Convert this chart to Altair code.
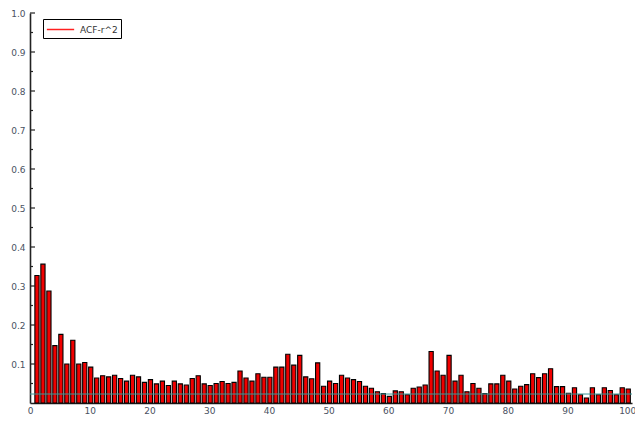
import altair as alt
import pandas as pd

# ---- data ----
lags = list(range(1, 101))
acf_r2 = [
    0.327, 0.356, 0.287, 0.147, 0.176, 0.100, 0.161, 0.100, 0.104, 0.092,
    0.064, 0.070, 0.067, 0.071, 0.063, 0.056, 0.071, 0.067, 0.053, 0.060,
    0.049, 0.056, 0.045, 0.056, 0.049, 0.046, 0.063, 0.070, 0.049, 0.045,
    0.050, 0.055, 0.050, 0.053, 0.082, 0.064, 0.056, 0.075, 0.066, 0.066,
    0.092, 0.092, 0.125, 0.097, 0.122, 0.067, 0.062, 0.103, 0.043, 0.056,
    0.050, 0.071, 0.064, 0.060, 0.055, 0.043, 0.038, 0.029, 0.024, 0.017,
    0.031, 0.029, 0.021, 0.038, 0.041, 0.046, 0.132, 0.082, 0.071, 0.122,
    0.056, 0.071, 0.029, 0.050, 0.038, 0.024, 0.049, 0.049, 0.071, 0.056,
    0.036, 0.043, 0.047, 0.075, 0.065, 0.075, 0.088, 0.042, 0.042, 0.025,
    0.039, 0.021, 0.013, 0.039, 0.021, 0.039, 0.032, 0.021, 0.039, 0.036,
]
series_name = "ACF-r^2"
threshold = [0.023]
y_major = [0.1, 0.2, 0.3, 0.4, 0.5, 0.6, 0.7, 0.8, 0.9, 1.0]
y_minor = [0.05, 0.15, 0.25, 0.35, 0.45, 0.55, 0.65, 0.75, 0.85, 0.95]
x_ticks = [0, 10, 20, 30, 40, 50, 60, 70, 80, 90, 100]

df = pd.DataFrame({"lag": lags, "value": acf_r2, "series": series_name})
thr_df = pd.DataFrame({"thr": threshold})
major_df = pd.DataFrame({"t": y_major})
minor_df = pd.DataFrame({"t": y_minor})

FONT = "DejaVu Sans"
LABEL_COLOR = "#4a5262"

xscale = alt.Scale(domain=[0, 100.8], nice=False, zero=False, padding=0)
yscale = alt.Scale(domain=[0, 1], nice=False, padding=0)

x_axis = alt.Axis(values=x_ticks, ticks=False, grid=False, labelPadding=3,
                  domainColor="#222", domainWidth=1.6, title=None,
                  labelFont=FONT, labelFontSize=9, labelColor=LABEL_COLOR,
                  labelFlush=False)
y_axis = alt.Axis(values=y_major, format=".1f", ticks=False, grid=False,
                  labelPadding=5, domainColor="#222", domainWidth=1.6,
                  title=None, labelFont=FONT, labelFontSize=9,
                  labelColor=LABEL_COLOR)

bars = alt.Chart(df).mark_bar(
    size=4.2, fill="#f00000", stroke="#000000", strokeWidth=1.1, xOffset=1
).encode(
    x=alt.X("lag:Q", scale=xscale, axis=x_axis),
    y=alt.Y("value:Q", scale=yscale, axis=y_axis),
)

legend_layer = alt.Chart(df).mark_line(strokeWidth=1.5).encode(
    x=alt.X("lag:Q", scale=xscale),
    y=alt.Y("value:Q", scale=yscale),
    color=alt.Color(
        "series:N",
        scale=alt.Scale(domain=[series_name], range=["#ff2020"]),
        legend=alt.Legend(
            title=None, orient="none", legendX=13, legendY=6,
            symbolType="M-2.1,0H2.1", symbolSize=169, symbolStrokeWidth=1.5,
            symbolOffset=7,
            strokeColor="#000000", fillColor="white", padding=3,
            labelFont=FONT, labelFontSize=9, labelColor="#333",
            labelOffset=12,
        ),
    ),
).transform_filter("false")

thr_rule = alt.Chart(thr_df).mark_rule(color="#3a9898", strokeWidth=1).encode(
    y=alt.Y("thr:Q", scale=yscale),
)

major_ticks = alt.Chart(major_df).mark_rule(color="#222", strokeWidth=1.2).encode(
    y=alt.Y("t:Q", scale=yscale),
    x=alt.value(0), x2=alt.value(5),
)
minor_ticks = alt.Chart(minor_df).mark_rule(color="#222", strokeWidth=1.2).encode(
    y=alt.Y("t:Q", scale=yscale),
    x=alt.value(0), x2=alt.value(3),
)

chart = alt.layer(bars, thr_rule, major_ticks, minor_ticks, legend_layer).properties(
    width=602, height=390,
    background="white",
    autosize=alt.AutoSizeParams(type="none"),
    padding={"left": 30, "top": 13, "right": 3, "bottom": 18},
).configure_view(stroke=None, strokeWidth=0)

chart.save("out.html", embed_options={"renderer": "svg", "actions": False})
